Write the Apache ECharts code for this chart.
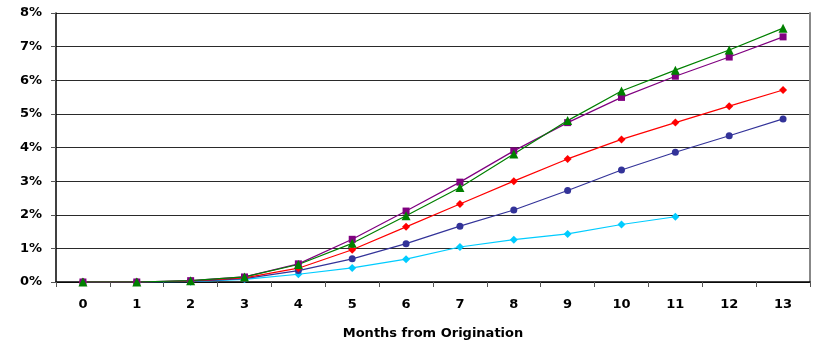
<!DOCTYPE html>
<html><head><meta charset="utf-8">
<script src="https://cdn.jsdelivr.net/npm/echarts@6/dist/echarts.min.js"></script>
<style>html,body{margin:0;padding:0;background:#fff}#c{width:813px;height:344px}</style>
</head><body><div id="c"></div>
<script>
const months = ['0','1','2','3','4','5','6','7','8','9','10','11','12','13'];
const yTicks = [0,1,2,3,4,5,6,7,8];
const greenTri = [0,0,0.04,0.15,0.52,1.15,1.97,2.81,3.81,4.80,5.68,6.30,6.90,7.55];
const purpleSq = [0,0,0.04,0.15,0.54,1.27,2.11,2.97,3.90,4.74,5.49,6.12,6.69,7.29];
const redDia   = [0,0,0.03,0.12,0.41,0.96,1.64,2.32,3.00,3.66,4.24,4.74,5.23,5.71];
const blueCirc = [0,0,0.02,0.10,0.34,0.69,1.14,1.66,2.14,2.72,3.33,3.86,4.35,4.85];
const cyanDia  = [0,0,0.01,0.08,0.23,0.42,0.68,1.04,1.26,1.43,1.71,1.94];

const chart = echarts.init(document.getElementById('c'), null, {renderer:'canvas'});
const font = {fontFamily:'DejaVu Sans', fontWeight:'bold', fontSize:13, color:'#000'};
function s(name, data, color, symbol, size){
  return {name, type:'line', data, symbol, symbolSize:size, showAllSymbol:true,
    lineStyle:{color, width:1.2}, itemStyle:{color}, animation:false, z: 3};
}
chart.setOption({
  animation:false,
  grid:{left:56, right:3, top:13, bottom:62, containLabel:false, outerBoundsMode:'none'},
  xAxis:{type:'category', data:months, boundaryGap:true,
    axisLine:{lineStyle:{color:'#000', width:1.5}},
    axisTick:{show:true, alignWithLabel:false, length:5, lineStyle:{color:'#555'}},
    axisLabel:Object.assign({margin:16}, font),
    name:'Months from Origination', nameLocation:'middle', nameGap:45,
    nameTextStyle:Object.assign({}, font)},
  yAxis:[{type:'value', min:0, max:8, interval:1,
    axisLine:{show:true, lineStyle:{color:'#000', width:1.5}},
    axisTick:{show:true, length:5, lineStyle:{color:'#555'}},
    axisLabel:Object.assign({margin:14, formatter:v=>v+'%'}, font),
    splitLine:{show:true, lineStyle:{color:'#2a2a2a', width:1}}},
    {type:'value', min:0, max:8, interval:1, position:'right',
    axisLine:{show:true, lineStyle:{color:'#888', width:2}},
    axisTick:{show:false}, axisLabel:{show:false}, splitLine:{show:false}}],
  series:[
    s('Series 5', cyanDia, '#00CCFF', 'diamond', 8),
    s('Series 4', blueCirc, '#333399', 'circle', 7),
    s('Series 3', redDia, '#FF0000', 'diamond', 8),
    s('Series 2', purpleSq, '#800080', 'rect', 7),
    s('Series 1', greenTri, '#008000', 'triangle', 9)
  ]
});
</script></body></html>
